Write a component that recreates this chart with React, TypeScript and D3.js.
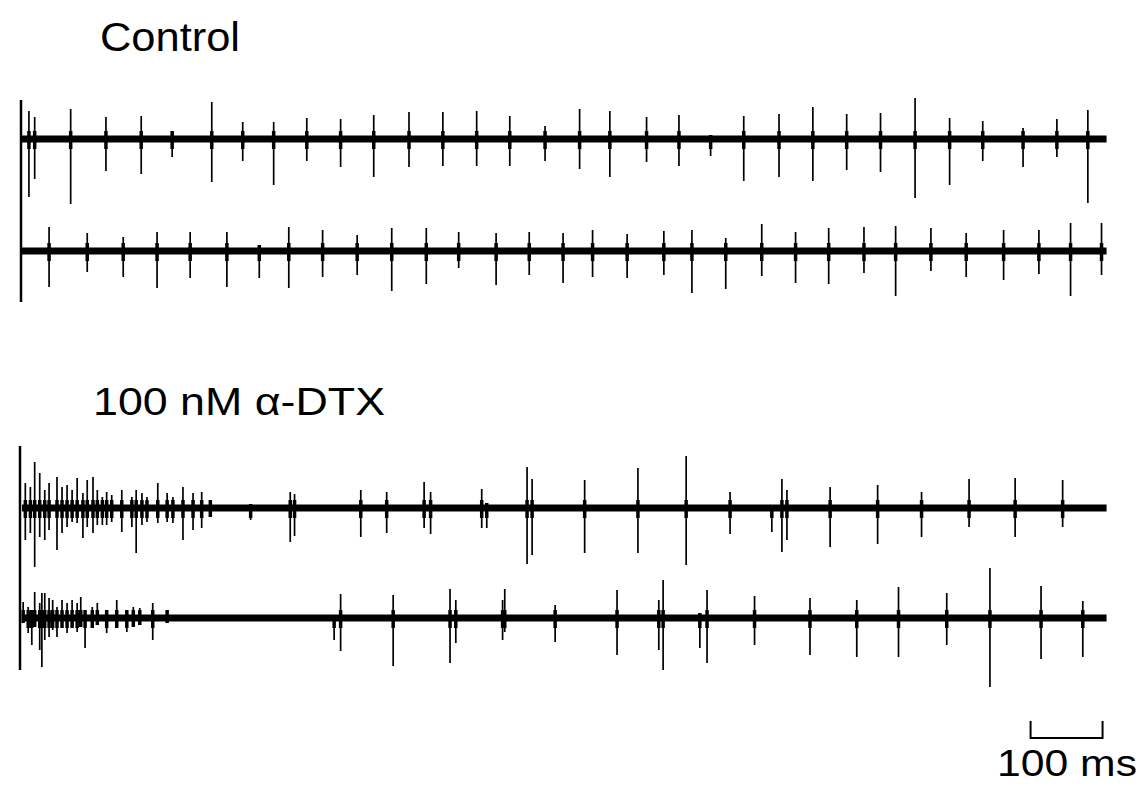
import React from "react";
import * as d3 from "d3";

// Spike data per sweep: time (ms from stimulus), upward and downward deflection (arbitrary units)
const ctrl1Times = [11, 19, 69, 118, 167, 210, 265, 308, 351, 397, 444, 490, 539, 586, 633, 679, 728, 776, 818, 869, 914, 958, 1004, 1053, 1100, 1147, 1194, 1242, 1290, 1336, 1392, 1439, 1482];
const ctrl1Up = [28, 22, 30, 22, 23, 8, 37, 17, 17, 21, 20, 24, 27, 27, 28, 23, 13, 30, 28, 22, 24, 4, 23, 25, 32, 25, 26, 41, 21, 18, 11, 20, 29];
const ctrl1Down = [58, 40, 65, 32, 35, 18, 43, 22, 46, 22, 28, 38, 28, 27, 27, 27, 22, 30, 38, 23, 27, 17, 42, 38, 42, 31, 33, 59, 46, 22, 28, 18, 64];

const ctrl2Times = [39, 92, 142, 189, 235, 286, 331, 372, 419, 467, 515, 563, 608, 660, 706, 753, 794, 842, 893, 932, 979, 1029, 1076, 1122, 1171, 1215, 1264, 1313, 1365, 1414, 1458, 1501];
const ctrl2Up = [24, 18, 14, 19, 19, 19, 6, 24, 21, 16, 23, 23, 19, 18, 19, 18, 21, 17, 20, 21, 13, 27, 19, 23, 24, 25, 23, 18, 21, 21, 28, 28];
const ctrl2Down = [36, 21, 26, 37, 27, 36, 27, 37, 26, 24, 40, 33, 17, 34, 24, 32, 26, 27, 24, 42, 38, 25, 32, 33, 22, 45, 20, 26, 29, 23, 45, 24];

const dtx1Times = [6, 13, 19, 26, 33, 39, 50, 57, 64, 71, 78, 86, 92, 100, 106, 113, 119, 126, 140, 154, 160, 168, 175, 190, 203, 211, 225, 239, 251, 263, 319, 374, 380, 472, 508, 560, 569, 640, 647, 703, 710, 783, 857, 924, 985, 1043, 1057, 1064, 1124, 1190, 1251, 1317, 1381, 1447];
const dtx1Up = [25, 21, 46, 35, 18, 25, 31, 21, 23, 18, 30, 15, 28, 31, 18, 11, 16, 13, 18, 11, 18, 15, 11, 25, 15, 11, 21, 15, 16, 8, 4, 16, 14, 18, 16, 26, 16, 19, 5, 41, 29, 28, 40, 52, 16, 3, 29, 18, 21, 23, 16, 29, 30, 28];
const dtx1Down = [32, 25, 59, 29, 32, 22, 42, 25, 19, 14, 15, 30, 19, 25, 17, 17, 17, 14, 24, 19, 45, 17, 14, 15, 14, 15, 32, 22, 20, 9, 12, 34, 28, 29, 25, 20, 26, 20, 20, 56, 47, 45, 45, 57, 26, 24, 44, 32, 39, 36, 29, 19, 29, 19];

const dtx2Times = [3, 10, 15, 19, 26, 29, 33, 39, 44, 50, 57, 64, 71, 78, 83, 89, 99, 106, 119, 133, 147, 156, 165, 183, 203, 435, 444, 517, 596, 604, 669, 672, 742, 828, 886, 892, 943, 953, 1019, 1096, 1161, 1219, 1286, 1346, 1417, 1475];
const dtx2Up = [16, 11, 8, 26, 15, 25, 25, 20, 18, 11, 18, 15, 18, 15, 21, 8, 11, 15, 8, 18, 8, 11, 10, 15, 8, 3, 24, 23, 29, 18, 18, 29, 13, 28, 18, 38, 5, 28, 22, 20, 18, 31, 25, 50, 32, 17];
const dtx2Down = [5, 15, 27, 9, 32, 49, 22, 19, 12, 19, 10, 15, 10, 14, 9, 30, 10, 7, 15, 10, 14, 9, 7, 22, 5, 22, 33, 48, 45, 25, 22, 14, 24, 37, 32, 52, 30, 45, 27, 37, 39, 39, 27, 69, 41, 39];

const sweeps = [
  { name: "ctrl1", times: ctrl1Times, up: ctrl1Up, down: ctrl1Down, baseline: 139 },
  { name: "ctrl2", times: ctrl2Times, up: ctrl2Up, down: ctrl2Down, baseline: 251 },
  { name: "dtx1", times: dtx1Times, up: dtx1Up, down: dtx1Down, baseline: 508 },
  { name: "dtx2", times: dtx2Times, up: dtx2Up, down: dtx2Down, baseline: 618 },
];

const sweepDurationMs = 1508;
const scaleBarMs = 100;

export default function App() {
  const width = 1143;
  const height = 786;
  const x = d3.scaleLinear().domain([0, 1510]).range([21, 1108]);

  const renderSweep = (s: (typeof sweeps)[number]) => {
    const y = d3.scaleLinear().domain([-100, 100]).range([s.baseline + 100, s.baseline - 100]);
    return (
      <g key={s.name}>
        <line x1={x(0) + 1} x2={x(sweepDurationMs)} y1={y(0)} y2={y(0)} stroke="#000" strokeWidth={7} />
        {s.times.map((t, i) => (
          <g key={i}>
            <line x1={x(t)} x2={x(t)} y1={y(s.up[i])} y2={y(-s.down[i])} stroke="#000" strokeWidth={1.7} />
            <line
              x1={x(t)}
              x2={x(t)}
              y1={y(Math.min(s.up[i], 8))}
              y2={y(-Math.min(s.down[i], 10))}
              stroke="#000"
              strokeWidth={3.5}
            />
          </g>
        ))}
      </g>
    );
  };

  const xb0 = x(sweepDurationMs) - (x(scaleBarMs) - x(0)) - 4;
  const xb1 = x(sweepDurationMs) - 4;

  return (
    <svg width={width} height={height} style={{ position: "absolute", left: 0, top: 0, background: "#fff" }}>
      <rect x={0} y={0} width={width} height={height} fill="#fff" />
      <g fontFamily="'Liberation Sans', Arial, Helvetica, sans-serif" fill="#000">
        <text x={100} y={51} fontSize={40} textLength={140} lengthAdjust="spacingAndGlyphs">Control</text>
        <text x={93} y={415} fontSize={39} textLength={292} lengthAdjust="spacingAndGlyphs">100 nM α-DTX</text>
        <text x={997} y={776} fontSize={37} textLength={140} lengthAdjust="spacingAndGlyphs">100 ms</text>
      </g>
      {/* stimulus artifacts */}
      <line x1={21} x2={21} y1={100} y2={302} stroke="#000" strokeWidth={2.5} />
      <line x1={20} x2={20} y1={446} y2={670} stroke="#000" strokeWidth={2.5} />
      {sweeps.map(renderSweep)}
      {/* scale bar */}
      <path d={`M${xb0},721 V738 H${xb1} V721`} fill="none" stroke="#000" strokeWidth={2} />
    </svg>
  );
}
